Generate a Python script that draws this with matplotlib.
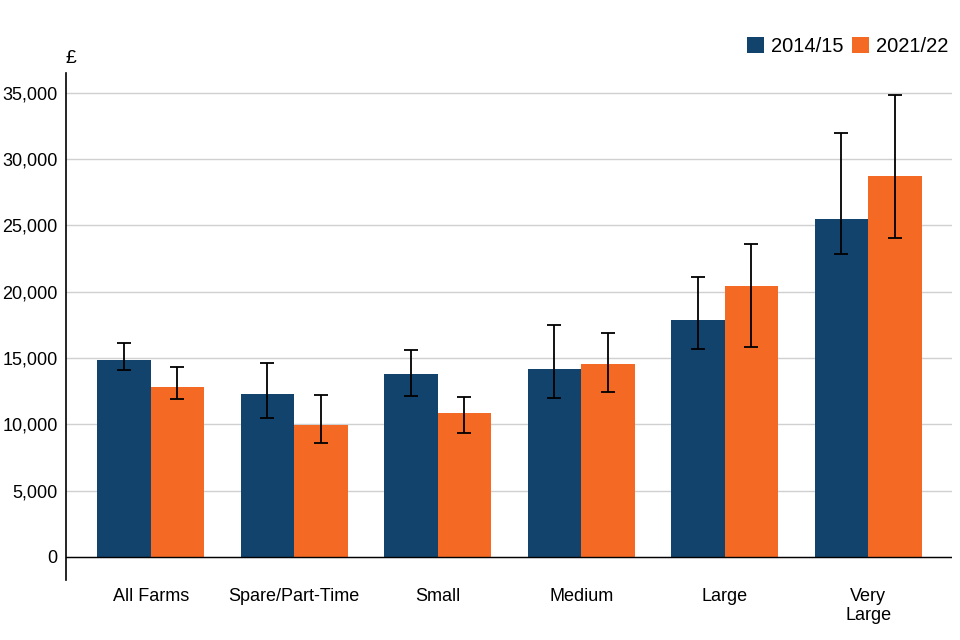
import matplotlib.pyplot as plt
import numpy as np

# Chart data
categories = ['All Farms', 'Spare/Part-Time', 'Small', 'Medium', 'Large', 'Very\nLarge']
years = ['2014/15', '2021/22']
val_1415 = [14850, 12300, 13800, 14180, 17880, 25500]
low_1415 = [14080, 10490, 12170, 11970, 15710, 22880]
high_1415 = [16120, 14630, 15640, 17500, 21140, 31980]
val_2122 = [12820, 9960, 10860, 14560, 20440, 28740]
low_2122 = [11920, 8600, 9380, 12400, 15820, 24090]
high_2122 = [14360, 12200, 12070, 16920, 23630, 34800]
y_ticks = [0, 5000, 10000, 15000, 20000, 25000, 30000, 35000]

colours = ['#12436D', '#F46A25']

plt.rcParams['font.family'] = ['Liberation Sans', 'DejaVu Sans']
plt.rcParams['font.size'] = 13

fig = plt.figure(figsize=(9.6, 6.4), dpi=100)
ax = fig.add_axes([0.06875, 0.094, 0.923, 0.792])

x = np.arange(len(categories))
w = 0.373
series = [
    (val_1415, low_1415, high_1415),
    (val_2122, low_2122, high_2122),
]
for i, (vals, lows, highs) in enumerate(series):
    vals = np.array(vals)
    err = [vals - np.array(lows), np.array(highs) - vals]
    pos = x + (i - 0.5) * w
    ax.bar(pos, vals, width=w, color=colours[i], label=years[i], zorder=2)
    ax.errorbar(pos, vals, yerr=err, fmt='none', ecolor='black',
                elinewidth=1.3, capsize=5, capthick=1.3, zorder=3)

ax.set_xlim(-0.59, len(categories) - 1 + 0.585)
ax.set_ylim(-1730, 36500)
ax.set_yticks(y_ticks)
ax.set_yticklabels([f'{t:,}' for t in y_ticks])
ax.set_xticks(x)
ax.set_xticklabels(categories, linespacing=1.15, va='top')

ax.grid(axis='y', color='#d0d0d0', linewidth=1, zorder=0)
ax.axhline(0, color='black', linewidth=1, zorder=4)
for s in ['top', 'right', 'bottom']:
    ax.spines[s].set_visible(False)
ax.spines['left'].set_linewidth(1.2)
ax.tick_params(axis='both', length=0, labelsize=13, colors='black')
ax.tick_params(axis='x', pad=6)
ax.tick_params(axis='y', pad=6)

ax.text(-0.001, 1.012, '£', transform=ax.transAxes, fontsize=14, ha='left', va='bottom')

ax.legend(loc='lower right', bbox_to_anchor=(1.005, 1.018), ncol=2, frameon=False,
          handlelength=0.85, handleheight=0.85, handletextpad=0.35, columnspacing=0.4,
          borderaxespad=0, fontsize=14.5)

fig.savefig('out.png', dpi=100)
